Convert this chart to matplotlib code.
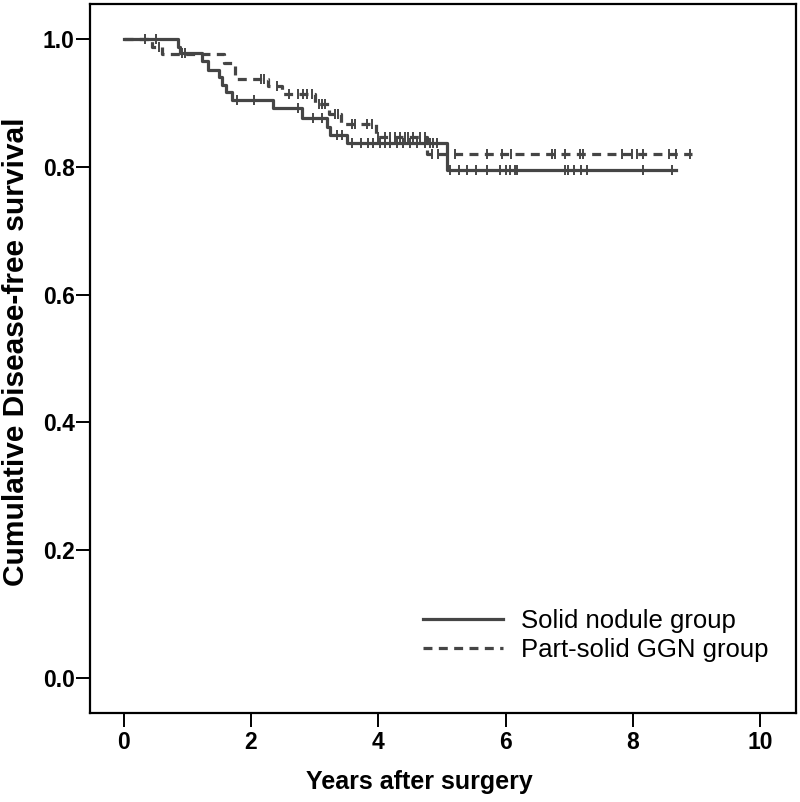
import numpy as np
import matplotlib
matplotlib.use('Agg')
import matplotlib.pyplot as plt

plt.rcParams['font.family'] = ['Liberation Sans', 'DejaVu Sans']

# step points (time in years, survival)
solid_t = [0, 0.845, 0.887, 1.23, 1.33, 1.49, 1.55, 1.60, 1.70, 2.35, 2.80, 3.19, 3.24, 3.51, 5.07, 8.68]
solid_s = [1.0, 0.988, 0.978, 0.965, 0.951, 0.940, 0.928, 0.918, 0.905, 0.892, 0.876, 0.863, 0.850, 0.837, 0.795, 0.795]

part_t = [0, 0.45, 0.60, 1.57, 1.75, 2.27, 2.48, 3.00, 3.23, 3.41, 3.96, 4.77, 8.93]
part_s = [1.0, 0.988, 0.976, 0.963, 0.938, 0.926, 0.914, 0.899, 0.883, 0.867, 0.847, 0.820, 0.820]

# censored observations
solid_cens = [0.34, 0.50, 0.92, 0.97, 1.78, 2.04, 2.74, 2.98, 3.12, 3.35, 3.43, 3.58, 3.72, 3.84,
              3.92, 4.03, 4.11, 4.18, 4.29, 4.39, 4.50, 4.60, 4.73, 4.81, 4.86, 4.92, 5.13, 5.26,
              5.39, 5.54, 5.70, 5.91, 6.01, 6.07, 6.14, 6.17, 6.93, 6.98, 7.08, 7.19, 7.27, 8.15, 8.62]
part_cens = [0.55, 2.15, 2.20, 2.41, 2.59, 2.74, 2.82, 2.88, 2.96, 3.06, 3.12, 3.16, 3.32, 3.37,
             3.58, 3.64, 3.82, 3.90, 4.00, 4.11, 4.18, 4.26, 4.34, 4.42, 4.47, 4.55, 4.66, 4.74,
             4.85, 4.94, 5.20, 5.70, 5.94, 6.09, 6.72, 6.77, 6.93, 7.16, 7.21, 7.82, 7.99, 8.07,
             8.15, 8.57, 8.68, 8.89]

labels = ['Solid nodule group', 'Part-solid GGN group']
col = '#454545'


def surv_at(ts, ss, c):
    idx = np.searchsorted(ts, c, side='right') - 1
    return np.array(ss)[idx]


fig = plt.figure(figsize=(8, 8.02), dpi=100)
ax = fig.add_axes([0.1125, 0.111, 0.8825, 0.884])

ax.step(solid_t, solid_s, where='post', color=col, lw=2.3, label=labels[0])
ax.step(part_t, part_s, where='post', color=col, lw=2.3, dashes=(2.8, 2.0), label=labels[1])

ax.plot(solid_cens, surv_at(solid_t, solid_s, solid_cens), ls='none', marker='|',
        ms=7, mew=1.4, color=col)
ax.plot(part_cens, surv_at(part_t, part_s, part_cens), ls='none', marker='|',
        ms=7, mew=1.4, color=col)

ax.set_xlim(-0.53, 10.56)
ax.set_ylim(-0.055, 1.055)
ax.set_xticks(np.arange(0, 11, 2))
ax.set_yticks(np.arange(0, 1.01, 0.2))
ax.set_yticklabels(['%.1f' % v for v in np.arange(0, 1.01, 0.2)])

for s in ax.spines.values():
    s.set_linewidth(1.6)
ax.tick_params(direction='out', length=10, width=1.4, labelsize=16.5, pad=3)
ax.tick_params(axis='y', pad=1)
for lab in ax.get_xticklabels() + ax.get_yticklabels():
    lab.set_fontweight('bold')

ax.set_xlabel('Years after surgery', fontsize=18, fontweight='bold')
ax.set_ylabel('Cumulative Disease-free survival', fontsize=21.5, fontweight='bold')
ax.xaxis.set_label_coords(0.467, -0.08)
ax.yaxis.set_label_coords(-0.085, 0.51)

ax.legend(loc='center left', bbox_to_anchor=(0.472, 0.109), frameon=False,
          fontsize=18.5, handlelength=3.1, handletextpad=0.7, labelspacing=0.2,
          borderpad=0, borderaxespad=0)

fig.savefig('out.png', dpi=100)
